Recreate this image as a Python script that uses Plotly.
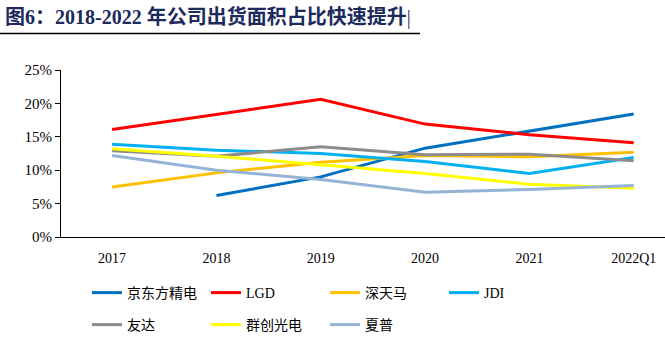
import plotly.graph_objects as go

categories = ["2017", "2018", "2019", "2020", "2021", "2022Q1"]

boe = [None, 6.2, 9.0, 13.3, 15.9, 18.4]
lgd = [16.1, 18.3, 20.6, 16.9, 15.3, 14.1]
tianma = [7.5, 9.6, 11.2, 12.2, 12.0, 12.7]
jdi = [13.9, 13.0, 12.5, 11.3, 9.5, 11.9]
auo = [12.9, 12.1, 13.5, 12.3, 12.4, 11.4]
innolux = [13.2, 12.1, 10.8, 9.5, 7.9, 7.3]
sharp = [12.2, 10.0, 8.6, 6.7, 7.1, 7.7]

series_names = ["京东方精电", "LGD", "深天马", "JDI", "友达", "群创光电", "夏普"]
series_values = [boe, lgd, tianma, jdi, auo, innolux, sharp]
series_colors = ["#0070C0", "#FF0000", "#FFC000", "#00B0F0", "#8C8C8C", "#FFFF00", "#95B3D7"]
legend_ids = ["legend", "legend", "legend", "legend", "legend2", "legend2", "legend2"]

y_ticks = [0, 5, 10, 15, 20, 25]
y_tick_labels = ["0%", "5%", "10%", "15%", "20%", "25%"]

W, H = 665, 351
L, R, T, B = 61, 0, 70, 114
pw, ph = W - L - R, H - T - B


def px_x(p):
    return (p - L) / pw


def px_y(p):
    return (H - B - p) / ph


serif = "Liberation Serif, Times New Roman, Noto Sans CJK SC, serif"
cjk = "Liberation Serif, Noto Sans CJK SC, serif"

fig = go.Figure()
for name, vals, col, lg in zip(series_names, series_values, series_colors, legend_ids):
    fig.add_trace(go.Scatter(
        x=categories, y=vals, name=name, mode="lines",
        line=dict(color=col, width=3), legend=lg,
    ))

legend_common = dict(
    orientation="h", xanchor="left", yanchor="middle",
    entrywidth=74, entrywidthmode="pixels", itemwidth=30,
    font=dict(family=cjk, size=14, color="black"),
    bgcolor="rgba(0,0,0,0)", tracegroupgap=0,
)

fig.update_layout(
    width=W, height=H,
    margin=dict(l=L, r=R, t=T, b=B, pad=0),
    plot_bgcolor="white", paper_bgcolor="white",
    font=dict(family=serif, size=14, color="black"),
    xaxis=dict(
        type="category", range=[-0.49, 5.3], showgrid=False,
        showline=True, linecolor="black", linewidth=1,
        ticks="", tickfont=dict(family=serif, size=14, color="black"),
        ticklabelstandoff=8,
    ),
    yaxis=dict(
        range=[0, 25], tickvals=y_ticks, ticktext=y_tick_labels,
        showgrid=False, zeroline=False,
        showline=True, linecolor="black", linewidth=1,
        ticks="outside", ticklen=5, tickcolor="black",
        tickfont=dict(family=serif, size=15, color="black"),
    ),
    legend=dict(x=px_x(87), y=px_y(293), **legend_common),
    legend2=dict(x=px_x(87), y=px_y(325), **legend_common),
    showlegend=True,
)

fig.add_annotation(
    text="<b>图6：2018-2022 年公司出货面积占比快速提升</b>|",
    xref="paper", yref="paper", x=px_x(3), y=px_y(17),
    xanchor="left", yanchor="middle", showarrow=False,
    font=dict(family=cjk, size=20, color="#1C2A5C"),
)
fig.add_shape(
    type="line", xref="paper", yref="paper",
    x0=px_x(0), x1=px_x(420), y0=px_y(33.5), y1=px_y(33.5),
    line=dict(color="black", width=1.5),
)

fig.write_html("out.html")
